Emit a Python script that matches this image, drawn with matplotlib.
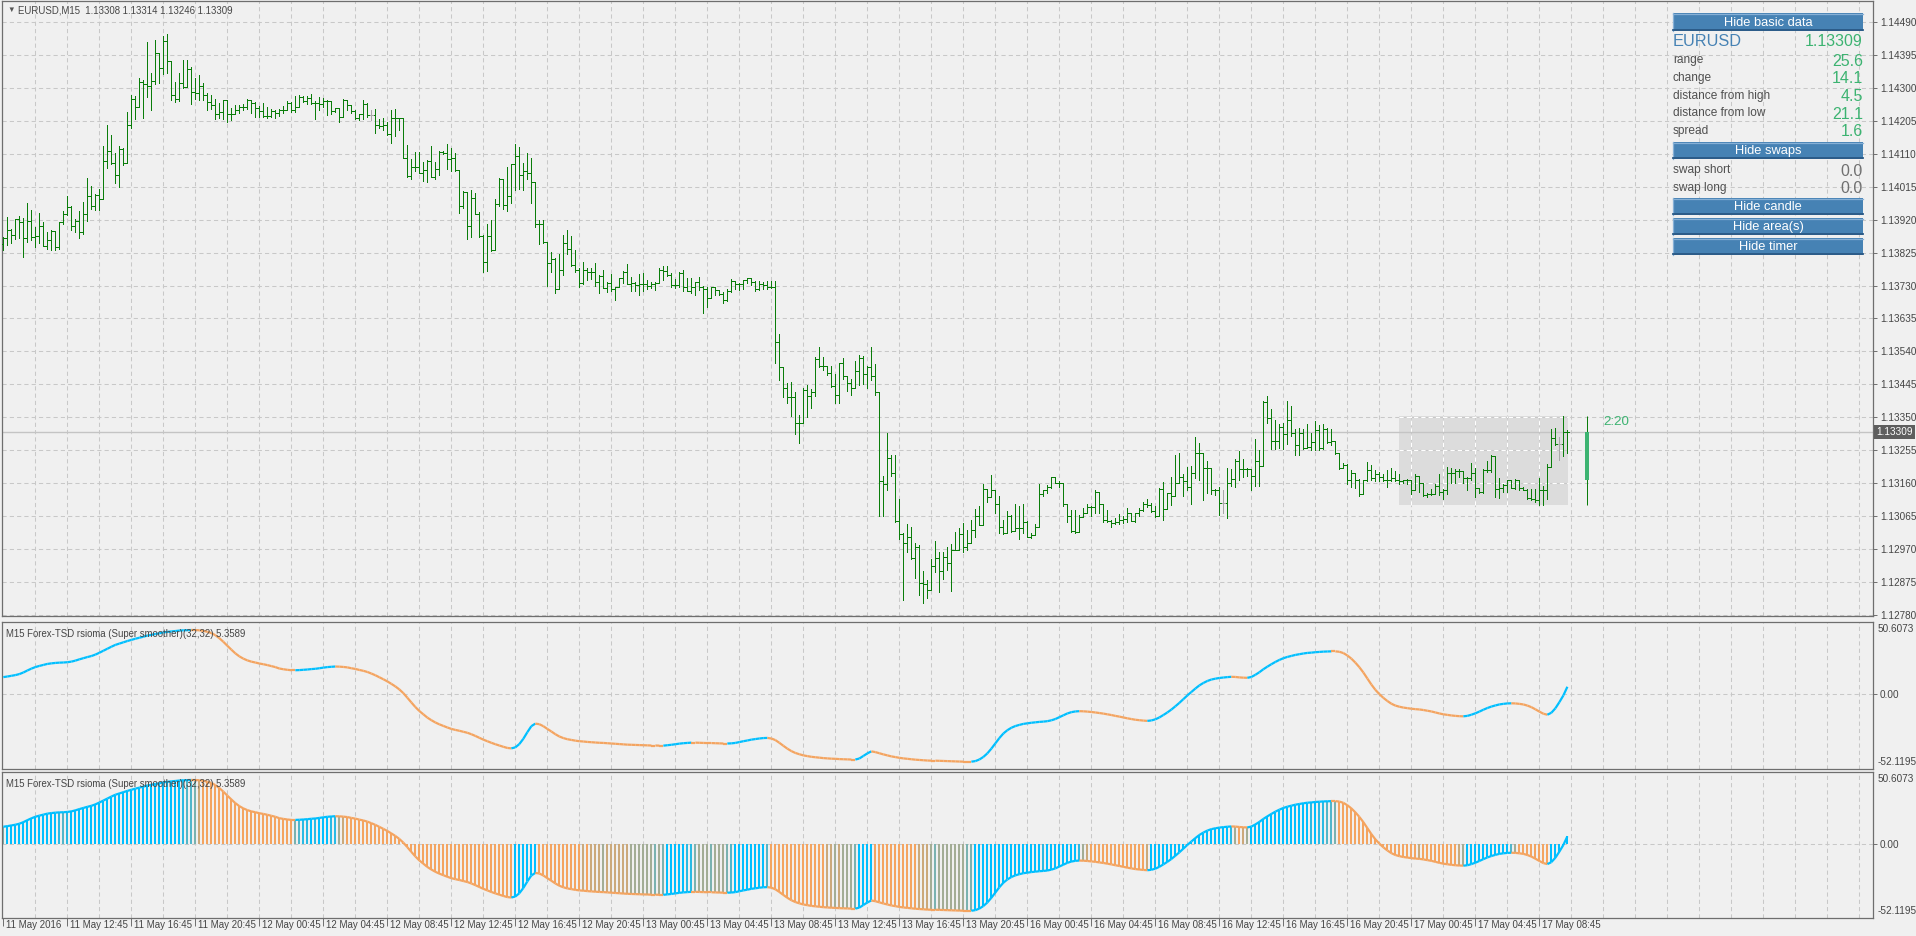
import numpy as np
import matplotlib.pyplot as plt
from matplotlib.collections import LineCollection
from matplotlib.patches import Rectangle

plt.rcParams['font.family'] = ['Liberation Sans', 'DejaVu Sans']

# EURUSD M15 bars, prices in points above 1.12000 (1 point = 0.00001)
highs = [
    1871, 1927, 1893, 1922, 1932, 1926, 1968, 1947, 1898, 1939,
    1914, 1884, 1889, 1888, 1914, 1946, 1989, 1960, 1922, 1946,
    1970, 2040, 2018, 1994, 2008, 2133, 2193, 2164, 2113, 2131,
    2127, 2231, 2280, 2277, 2329, 2323, 2433, 2342, 2438, 2402,
    2451, 2456, 2377, 2317, 2342, 2381, 2381, 2359, 2328, 2336,
    2313, 2285, 2280, 2267, 2256, 2265, 2265, 2242, 2251, 2250,
    2253, 2267, 2265, 2258, 2248, 2256, 2244, 2238, 2237, 2238,
    2248, 2261, 2258, 2277, 2280, 2277, 2277, 2283, 2261, 2273,
    2272, 2265, 2262, 2243, 2241, 2267, 2263, 2251, 2237, 2224,
    2265, 2256, 2237, 2239, 2211, 2213, 2203, 2235, 2238, 2214,
    2200, 2135, 2095, 2116, 2116, 2087, 2092, 2131, 2087, 2118,
    2118, 2138, 2126, 2111, 2063, 2003, 2001, 2006, 1996, 1943,
    1876, 1908, 1919, 1979, 2039, 2036, 2073, 2081, 2138, 2129,
    2083, 2111, 2099, 2027, 1919, 1919, 1855, 1826, 1809, 1821,
    1876, 1890, 1874, 1833, 1780, 1799, 1780, 1780, 1794, 1759,
    1775, 1739, 1764, 1727, 1753, 1773, 1792, 1756, 1741, 1763,
    1765, 1746, 1741, 1739, 1782, 1785, 1787, 1765, 1748, 1770,
    1775, 1751, 1753, 1739, 1756, 1729, 1727, 1727, 1725, 1717,
    1711, 1720, 1750, 1743, 1737, 1746, 1753, 1751, 1743, 1744,
    1741, 1743, 1743, 1744, 1591, 1469, 1448, 1451, 1424, 1357,
    1434, 1443, 1431, 1523, 1554, 1525, 1498, 1498, 1474, 1508,
    1520, 1469, 1460, 1513, 1530, 1527, 1498, 1552, 1504, 1422,
    1181, 1304, 1241, 1241, 1114, 1016, 1043, 1035, 987, 982,
    907, 881, 942, 992, 961, 963, 975, 985, 1018, 1030,
    1044, 1025, 1054, 1086, 1095, 1158, 1143, 1184, 1119, 1123,
    1054, 1080, 1067, 1100, 1093, 1100, 1052, 1016, 1043, 1158,
    1141, 1155, 1179, 1177, 1165, 1162, 1097, 1083, 1083, 1068,
    1088, 1100, 1093, 1141, 1136, 1100, 1083, 1054, 1059, 1071,
    1066, 1088, 1075, 1075, 1088, 1105, 1114, 1102, 1095, 1145,
    1163, 1133, 1177, 1241, 1246, 1186, 1208, 1210, 1292, 1277,
    1206, 1224, 1203, 1144, 1150, 1141, 1203, 1200, 1229, 1254,
    1230, 1203, 1200, 1287, 1256, 1397, 1412, 1373, 1341, 1331,
    1335, 1396, 1383, 1316, 1319, 1316, 1330, 1306, 1338, 1328,
    1331, 1319, 1316, 1283, 1248, 1218, 1216, 1199, 1187, 1172,
    1170, 1220, 1213, 1199, 1191, 1187, 1199, 1205, 1194, 1186,
    1170, 1172, 1167, 1186, 1179, 1131, 1133, 1143, 1157, 1187,
    1144, 1206, 1203, 1200, 1200, 1191, 1179, 1218, 1203, 1146,
    1200, 1225, 1242, 1239, 1174, 1158, 1170, 1170, 1172, 1170,
    1149, 1143, 1143, 1143, 1174, 1151, 1215, 1316, 1319, 1293,
    1354, 1314,
]
lows = [
    1833, 1847, 1854, 1864, 1867, 1811, 1857, 1860, 1840, 1852,
    1843, 1835, 1833, 1833, 1834, 1908, 1934, 1891, 1884, 1866,
    1880, 1917, 1951, 1948, 1948, 1980, 2068, 2081, 2027, 2015,
    2077, 2083, 2184, 2210, 2244, 2214, 2275, 2237, 2312, 2313,
    2340, 2342, 2265, 2259, 2261, 2299, 2306, 2253, 2269, 2265,
    2265, 2237, 2238, 2211, 2214, 2211, 2203, 2208, 2224, 2227,
    2237, 2238, 2227, 2217, 2217, 2217, 2214, 2217, 2213, 2220,
    2229, 2235, 2231, 2231, 2244, 2259, 2254, 2253, 2210, 2237,
    2244, 2222, 2224, 2231, 2203, 2215, 2237, 2229, 2210, 2208,
    2210, 2217, 2208, 2171, 2184, 2179, 2164, 2140, 2160, 2179,
    2097, 2042, 2038, 2059, 2054, 2032, 2030, 2042, 2036, 2049,
    2109, 2066, 2059, 2060, 1940, 1953, 1865, 1871, 1936, 1871,
    1770, 1772, 1831, 1833, 1958, 1951, 1946, 1969, 2006, 2008,
    2006, 2036, 1967, 1900, 1850, 1854, 1730, 1770, 1708, 1719,
    1761, 1821, 1785, 1770, 1727, 1734, 1746, 1748, 1729, 1708,
    1722, 1710, 1713, 1689, 1727, 1737, 1734, 1713, 1715, 1703,
    1715, 1720, 1724, 1717, 1737, 1746, 1758, 1727, 1724, 1725,
    1715, 1713, 1708, 1703, 1717, 1652, 1669, 1693, 1703, 1703,
    1679, 1684, 1711, 1719, 1717, 1719, 1737, 1732, 1715, 1717,
    1719, 1719, 1722, 1508, 1458, 1408, 1391, 1354, 1301, 1275,
    1340, 1352, 1378, 1412, 1496, 1485, 1472, 1436, 1390, 1392,
    1460, 1427, 1414, 1436, 1443, 1445, 1434, 1458, 1414, 1064,
    1064, 1141, 1181, 1049, 998, 823, 963, 942, 888, 838,
    814, 828, 854, 903, 847, 884, 910, 850, 966, 977,
    963, 966, 1004, 1006, 1038, 1040, 1107, 1121, 1073, 1016,
    1013, 1018, 1020, 1030, 999, 1016, 1004, 1003, 1011, 1044,
    1123, 1131, 1145, 1160, 1150, 1094, 1049, 1018, 1016, 1018,
    1064, 1073, 1064, 1073, 1073, 1049, 1049, 1035, 1042, 1043,
    1044, 1049, 1051, 1049, 1066, 1081, 1091, 1076, 1062, 1064,
    1054, 1100, 1097, 1126, 1160, 1124, 1141, 1099, 1174, 1169,
    1112, 1131, 1129, 1126, 1069, 1074, 1059, 1152, 1150, 1170,
    1179, 1181, 1139, 1152, 1152, 1251, 1333, 1258, 1258, 1261,
    1258, 1273, 1295, 1242, 1242, 1259, 1261, 1256, 1256, 1256,
    1258, 1275, 1271, 1245, 1200, 1210, 1158, 1149, 1146, 1124,
    1131, 1165, 1168, 1165, 1165, 1165, 1150, 1165, 1165, 1158,
    1160, 1158, 1128, 1153, 1136, 1122, 1120, 1126, 1136, 1126,
    1114, 1129, 1160, 1160, 1179, 1162, 1139, 1170, 1119, 1131,
    1133, 1191, 1191, 1120, 1117, 1136, 1136, 1146, 1143, 1141,
    1139, 1115, 1112, 1107, 1098, 1098, 1115, 1206, 1271, 1227,
    1237, 1246,
]
closes = [
    1867, 1889, 1876, 1921, 1914, 1867, 1916, 1870, 1873, 1901,
    1844, 1861, 1888, 1841, 1912, 1936, 1956, 1902, 1915, 1884,
    1937, 1988, 1958, 1992, 1981, 2089, 2118, 2083, 2049, 2125,
    2083, 2193, 2269, 2244, 2317, 2312, 2306, 2319, 2400, 2356,
    2435, 2377, 2279, 2267, 2313, 2304, 2355, 2287, 2285, 2306,
    2280, 2260, 2251, 2224, 2230, 2265, 2225, 2225, 2237, 2245,
    2244, 2264, 2256, 2241, 2232, 2219, 2218, 2232, 2229, 2235,
    2235, 2256, 2235, 2244, 2275, 2261, 2272, 2256, 2256, 2254,
    2261, 2262, 2233, 2241, 2215, 2265, 2252, 2234, 2213, 2224,
    2254, 2222, 2222, 2193, 2190, 2192, 2168, 2212, 2212, 2212,
    2099, 2047, 2073, 2071, 2056, 2063, 2088, 2044, 2065, 2116,
    2111, 2095, 2097, 2062, 1958, 2001, 1903, 1982, 1937, 1873,
    1797, 1874, 1833, 1964, 2036, 1961, 1989, 2080, 2104, 2049,
    2061, 2054, 2028, 1908, 1908, 1855, 1794, 1806, 1719, 1775,
    1852, 1836, 1788, 1775, 1737, 1775, 1770, 1768, 1739, 1758,
    1724, 1737, 1720, 1726, 1753, 1770, 1735, 1737, 1732, 1735,
    1735, 1730, 1735, 1737, 1775, 1773, 1761, 1732, 1732, 1767,
    1727, 1715, 1727, 1739, 1727, 1720, 1693, 1725, 1717, 1706,
    1689, 1713, 1743, 1734, 1734, 1746, 1751, 1739, 1720, 1734,
    1732, 1727, 1725, 1567, 1496, 1434, 1408, 1408, 1333, 1333,
    1429, 1412, 1424, 1518, 1498, 1498, 1479, 1441, 1414, 1506,
    1469, 1448, 1434, 1484, 1520, 1475, 1496, 1469, 1422, 1165,
    1157, 1232, 1189, 1051, 1013, 987, 1006, 944, 977, 871,
    870, 852, 921, 944, 907, 948, 929, 968, 968, 1014,
    977, 987, 1025, 1064, 1040, 1142, 1119, 1141, 1099, 1035,
    1016, 1066, 1022, 1030, 1030, 1047, 1006, 1011, 1035, 1128,
    1139, 1150, 1177, 1162, 1162, 1100, 1066, 1023, 1018, 1062,
    1073, 1091, 1091, 1136, 1100, 1054, 1052, 1046, 1049, 1054,
    1057, 1073, 1052, 1073, 1083, 1100, 1097, 1081, 1064, 1142,
    1085, 1131, 1123, 1160, 1179, 1167, 1150, 1189, 1246, 1246,
    1203, 1203, 1141, 1141, 1102, 1102, 1160, 1172, 1223, 1200,
    1200, 1200, 1181, 1225, 1210, 1394, 1349, 1283, 1282, 1322,
    1301, 1343, 1306, 1271, 1306, 1261, 1263, 1280, 1314, 1261,
    1316, 1280, 1282, 1246, 1203, 1213, 1170, 1189, 1170, 1128,
    1170, 1199, 1174, 1187, 1179, 1170, 1170, 1174, 1170, 1165,
    1170, 1170, 1141, 1181, 1160, 1126, 1129, 1128, 1152, 1136,
    1141, 1189, 1189, 1194, 1194, 1176, 1174, 1189, 1146, 1136,
    1199, 1197, 1239, 1143, 1146, 1155, 1168, 1146, 1170, 1146,
    1141, 1117, 1114, 1112, 1141, 1141, 1206, 1290, 1273, 1273,
    1308, 1309,
]
first_open = 1850
doji_bars = [92, 305, 389]      # open == close, drawn in grey

# current daily candle and the day's range box
candle_open, candle_high, candle_low, candle_close = 1168, 1354, 1098, 1309
day_start_bar = 349
bid = 1309

# rsioma (super smoother) values, one per bar
rsioma = [
    12.1, 12.5, 13.0, 13.5, 14.2, 15.3, 16.7, 18.0, 19.1, 19.9,
    20.6, 21.3, 21.7, 22.0, 22.2, 22.3, 22.5, 22.9, 23.6, 24.5,
    25.3, 26.1, 26.8, 27.8, 29.1, 30.5, 31.9, 33.3, 34.6, 35.5,
    36.4, 37.3, 38.1, 38.9, 39.6, 40.3, 41.1, 41.6, 42.2, 42.7,
    43.3, 43.7, 44.0, 44.3, 44.6, 44.8, 44.9, 45.0, 45.0, 44.8,
    44.4, 43.8, 42.9, 41.4, 39.3, 36.8, 34.0, 31.3, 28.7, 26.6,
    25.0, 23.8, 22.9, 22.3, 21.6, 21.1, 20.5, 19.8, 19.1, 18.1,
    17.6, 17.2, 16.9, 16.9, 17.0, 17.2, 17.4, 17.7, 17.9, 18.3,
    18.7, 19.1, 19.3, 19.5, 19.4, 19.2, 18.9, 18.3, 17.8, 17.1,
    16.5, 15.7, 14.6, 13.4, 12.0, 10.6, 9.1, 7.4, 5.6, 3.5,
    0.9, -2.3, -5.6, -8.8, -11.6, -13.9, -16.2, -18.0, -19.6, -20.9,
    -22.0, -23.1, -24.1, -24.8, -25.4, -26.1, -26.8, -27.8, -29.0, -30.3,
    -31.6, -32.7, -33.8, -34.8, -35.7, -36.6, -37.4, -37.7, -37.0, -34.7,
    -31.0, -26.4, -22.2, -20.4, -20.8, -22.2, -24.1, -25.9, -27.8, -29.4,
    -30.5, -31.3, -31.8, -32.3, -32.7, -32.9, -33.2, -33.4, -33.6, -33.8,
    -33.9, -34.1, -34.3, -34.5, -34.7, -34.9, -35.1, -35.2, -35.3, -35.4,
    -35.5, -35.6, -35.7, -35.7, -35.8, -35.8, -35.5, -35.2, -34.8, -34.4,
    -34.1, -33.9, -33.7, -33.7, -33.8, -33.9, -34.0, -34.0, -34.1, -34.2,
    -34.3, -34.3, -34.2, -33.9, -33.3, -32.7, -32.2, -31.6, -31.2, -30.8,
    -30.5, -30.4, -30.8, -31.9, -33.8, -35.9, -37.9, -39.6, -40.9, -41.8,
    -42.6, -43.1, -43.6, -43.9, -44.2, -44.5, -44.7, -44.9, -45.0, -45.2,
    -45.3, -45.4, -45.5, -45.5, -44.8, -43.0, -41.2, -39.8, -40.3, -41.1,
    -41.9, -42.6, -43.3, -43.8, -44.3, -44.7, -45.0, -45.3, -45.6, -45.8,
    -46.0, -46.2, -46.3, -46.3, -46.4, -46.5, -46.6, -46.7, -46.8, -46.9,
    -47.0, -47.0, -47.0, -46.6, -45.5, -43.7, -41.2, -37.9, -34.2, -30.5,
    -27.3, -25.0, -23.3, -22.1, -21.3, -20.6, -20.2, -19.8, -19.5, -19.2,
    -19.0, -18.7, -18.1, -17.2, -15.9, -14.6, -13.3, -12.4, -11.9, -11.7,
    -11.8, -12.0, -12.3, -12.6, -13.0, -13.4, -13.9, -14.4, -15.0, -15.5,
    -16.1, -16.7, -17.2, -17.7, -18.0, -18.3, -18.5, -18.2, -17.4, -16.1,
    -14.4, -12.6, -10.6, -8.3, -5.9, -3.3, -0.7, 1.7, 4.1, 6.3,
    8.0, 9.4, 10.4, 11.0, 11.5, 11.8, 12.1, 12.3, 12.2, 11.9,
    11.7, 11.6, 12.2, 13.7, 15.5, 17.6, 19.4, 21.1, 22.7, 24.1,
    25.3, 26.2, 26.9, 27.6, 28.1, 28.6, 29.0, 29.2, 29.5, 29.7,
    29.9, 30.0, 30.1, 30.1, 29.8, 28.9, 27.2, 25.0, 22.2, 19.0,
    15.3, 11.1, 6.9, 3.2, 0.2, -2.4, -4.6, -6.5, -7.8, -8.6,
    -9.2, -9.6, -10.0, -10.3, -10.5, -10.9, -11.4, -11.9, -12.6, -13.3,
    -13.9, -14.3, -14.7, -15.0, -15.2, -15.3, -15.0, -14.2, -13.2, -12.0,
    -10.7, -9.5, -8.5, -7.7, -7.0, -6.6, -6.3, -6.2, -6.3, -6.6,
    -7.0, -7.8, -8.9, -10.4, -12.0, -13.5, -14.2, -12.8, -9.7, -5.4,
    -0.7, 5.3589,
]
rsi_max, rsi_min = 50.6073, -52.1195

price_labels = ['1.12780', '1.12875', '1.12970', '1.13065', '1.13160', '1.13255',
                '1.13350', '1.13445', '1.13540', '1.13635', '1.13730', '1.13825',
                '1.13920', '1.14015', '1.14110', '1.14205', '1.14300', '1.14395',
                '1.14490']
time_labels = ['11 May 2016', '11 May 12:45', '11 May 16:45', '11 May 20:45',
               '12 May 00:45', '12 May 04:45', '12 May 08:45', '12 May 12:45',
               '12 May 16:45', '12 May 20:45', '13 May 00:45', '13 May 04:45',
               '13 May 08:45', '13 May 12:45', '13 May 16:45', '13 May 20:45',
               '16 May 00:45', '16 May 04:45', '16 May 08:45', '16 May 12:45',
               '16 May 16:45', '16 May 20:45', '17 May 00:45', '17 May 04:45',
               '17 May 08:45']
bars_per_label = 16

info_labels = ['range', 'change', 'distance from high', 'distance from low', 'spread']
info_values = ['25.6', '14.1', '4.5', '21.1', '1.6']
swap_labels = ['swap short', 'swap long']
swap_values = ['0.0', '0.0']

# ---------------------------------------------------------------- styling
W, H = 1916, 936
BG = '#f0f0f0'
GRID = '#c8c8c8'
FRAME = '#6e6e6e'
TXT = '#454545'
BAR = '#0a7d0a'
DOJI = '#a8a8a8'
BLUE = np.array([0, 191, 255]) / 255
ORANGE = np.array([244, 164, 96]) / 255
SEAGREEN = '#3cb371'
STEEL = '#4682b4'
DASH = (0, (4, 3))
XL = (-0.33, 467.4)
PX = 0.72     # one pixel in points at 100 dpi


def price(v):
    return 1.12 + np.asarray(v, dtype=float) / 1e5


fig = plt.figure(figsize=(W / 100, H / 100), dpi=100, facecolor=BG)


def add_pane(top, bottom):
    a = fig.add_axes([2 / W, 1 - bottom / H, 1871 / W, (bottom - top) / H])
    a.set_facecolor(BG)
    a.set_xlim(*XL)
    for s in a.spines.values():
        s.set_color(FRAME)
        s.set_linewidth(0.9)
    a.set_xticks([])
    return a


grid_x = np.arange(8, XL[1], 8)

# ---------------------------------------------------------------- price pane
ax = add_pane(1, 616)
ylo, yhi = 1.12777, 1.145506
ax.set_ylim(ylo, yhi)
ticks = [float(t) for t in price_labels]
ax.vlines(grid_x, ylo, yhi, colors=GRID, linestyles=DASH, lw=0.75, zorder=1)
ax.hlines(ticks, XL[0], XL[1], colors=GRID, linestyles=DASH, lw=0.75, zorder=1)

n = min(len(highs), len(lows), len(closes))
c = price(closes[:n])
o = np.r_[price(first_open), c[:-1]]
h = np.maximum(price(highs[:n]), np.maximum(o, c))
l = np.minimum(price(lows[:n]), np.minimum(o, c))

# day range box
d_hi = price(max(highs[day_start_bar:n]))
d_lo = price(min(lows[day_start_bar:n]))
bx0, bx1 = day_start_bar - 0.1, n - 1 + 0.05
ax.add_patch(Rectangle((bx0, d_lo), bx1 - bx0, d_hi - d_lo, facecolor='#dcdcdc',
                       edgecolor='none', zorder=0.5))
gx_in = grid_x[(grid_x > bx0) & (grid_x < bx1)]
ax.vlines(gx_in, d_lo, d_hi, colors='white', linestyles=DASH, lw=0.75, zorder=1.1)
ty_in = [t for t in ticks if d_lo < t < d_hi]
ax.hlines(ty_in, bx0, bx1, colors='white', linestyles=DASH, lw=0.75, zorder=1.1)

# bid line
ax.axhline(price(bid), color='#c4c4c4', lw=1.0, zorder=1.2)

segs, cols = [], []
for i in range(n):
    col = DOJI if i in doji_bars else BAR
    segs += [[(i, l[i]), (i, h[i])], [(i - 0.4, o[i]), (i, o[i])], [(i, c[i]), (i + 0.4, c[i])]]
    cols += [col] * 3
ax.add_collection(LineCollection(segs, colors=cols, linewidths=PX, antialiaseds=False, zorder=3))

# daily candle to the right of the last bar
cx = n + 4
ax.vlines(cx, price(candle_low), price(candle_high), colors=BAR, lw=PX, zorder=3)
ax.bar(cx, price(candle_close) - price(candle_open), bottom=price(candle_open), width=1.0,
       color=SEAGREEN, linewidth=0, zorder=4)
ax.text(cx + 3.9, price(candle_high), '2:20', color=SEAGREEN, fontsize=9.6,
        ha='left', va='top', zorder=5)

ax.yaxis.tick_right()
ax.set_yticks(ticks)
ax.set_yticklabels(price_labels)
ax.tick_params(axis='y', length=3, width=0.7, color=FRAME, labelsize=7.2,
               labelcolor=TXT, pad=2)
ax.annotate(f'{price(bid):.5f}', xy=(1, price(bid)), xycoords=('axes fraction', 'data'),
            xytext=(2.2, 0), textcoords='offset points', ha='left', va='center',
            fontsize=7.2, color='white',
            bbox=dict(boxstyle='square,pad=0.2', fc='#5e5e5e', ec='none'))

# ---------------------------------------------------------------- indicator panes
vals = np.array(rsioma)
m = len(vals)
xi = np.arange(m)
pts = np.column_stack([xi, vals])
rsegs = np.stack([pts[:-1], pts[1:]], axis=1)
rcols = [BLUE if vals[i + 1] > vals[i] else ORANGE for i in range(m - 1)]

d = np.diff(vals, prepend=vals[0])
t = np.clip(0.5 + d / 0.6, 0, 1)
hcols = [tuple(BLUE * k + ORANGE * (1 - k)) for k in t]


def indicator_pane(top, bottom, hist):
    a = add_pane(top, bottom)
    a.set_ylim(rsi_min, rsi_max)
    a.vlines(grid_x, rsi_min, rsi_max, colors=GRID, linestyles=DASH, lw=0.75, zorder=1)
    a.axhline(0, color=GRID, ls=DASH, lw=0.75, zorder=1)
    if hist:
        a.bar(xi, vals, width=0.55, color=hcols, linewidth=0, zorder=2)
    a.add_collection(LineCollection(rsegs, colors=rcols, linewidths=1.6, zorder=3,
                                    capstyle='butt'))
    a.yaxis.tick_right()
    a.set_yticks([0])
    a.set_yticklabels(['0.00'])
    a.tick_params(axis='y', length=3, width=0.7, color=FRAME, labelsize=7.2,
                  labelcolor=TXT, pad=2)
    a.annotate(f'{rsi_max:.4f}', xy=(1, 1), xycoords='axes fraction', xytext=(3, -1.5),
               textcoords='offset points', ha='left', va='top', fontsize=7.2, color=TXT)
    a.annotate(f'{rsi_min:.4f}', xy=(1, 0), xycoords='axes fraction', xytext=(3, 1.5),
               textcoords='offset points', ha='left', va='bottom', fontsize=7.2, color=TXT)
    a.text(0.0023, 0.955, f'M15 Forex-TSD rsioma (Super smoother)(32,32) {vals[-1]:.4f}',
           transform=a.transAxes, fontsize=6.9, color=TXT, ha='left', va='top', zorder=6)
    return a


ax2 = indicator_pane(622, 769, hist=False)
ax3 = indicator_pane(772, 918, hist=True)

pos = [k * bars_per_label for k in range(len(time_labels))]
ax3.set_xticks(pos)
ax3.tick_params(axis='x', length=6, width=0.7, color=FRAME, labelbottom=False)
for p, lab in zip(pos, time_labels):
    ax3.annotate(lab, xy=(p, 0), xycoords=('data', 'axes fraction'), xytext=(1.8, -1.2),
                 textcoords='offset points', ha='left', va='top', fontsize=7.0, color=TXT)

# ---------------------------------------------------------------- overlay (pixel coords)
ov = fig.add_axes([0, 0, 1, 1], zorder=10)
ov.set_xlim(0, W)
ov.set_ylim(H, 0)
ov.set_axis_off()

ov.text(7, 10.5, '\u25bc', fontsize=5.5, color='#555555', ha='left', va='center')
ov.text(18, 10.5, 'EURUSD,M15  1.13308 1.13314 1.13246 1.13309', fontsize=6.9,
        color=TXT, ha='left', va='center')

BX0, BX1 = 1673, 1863


def button(y0, y1, label):
    ov.add_patch(Rectangle((BX0, y0), BX1 - BX0, y1 - y0, facecolor=STEEL, edgecolor='none'))
    ov.plot([BX0, BX1], [y0 + 0.5, y0 + 0.5], color='#86b0d6', lw=0.9)
    ov.plot([BX0 + 0.5, BX0 + 0.5], [y0, y1], color='#86b0d6', lw=0.9)
    ov.plot([BX0, BX1], [y1 - 0.8, y1 - 0.8], color='#2a5985', lw=1.3)
    ov.text((BX0 + BX1) / 2, (y0 + y1) / 2 + 0.5, label, ha='center', va='center',
            color='white', fontsize=9.3)


button(13, 31, 'Hide basic data')
ov.text(BX0, 41.5, 'EURUSD', color=STEEL, fontsize=11.8, ha='left', va='center')
ov.text(BX1, 41.5, f'{price(bid):.5f}', color=SEAGREEN, fontsize=11.5, ha='right', va='center')
for k, (lab, val) in enumerate(zip(info_labels, info_values)):
    y = 60 + k * 17.75
    ov.text(BX0, y, lab, color='#505050', fontsize=8.6, ha='left', va='center')
    ov.text(BX1, y + 1, val, color=SEAGREEN, fontsize=11.5, ha='right', va='center')
button(142, 159, 'Hide swaps')
for k, (lab, val) in enumerate(zip(swap_labels, swap_values)):
    y = 170 + k * 17.7
    ov.text(BX0, y, lab, color='#505050', fontsize=8.6, ha='left', va='center')
    ov.text(BX1, y + 1, val, color='#707070', fontsize=11.5, ha='right', va='center')
button(198, 215, 'Hide candle')
button(218, 235, 'Hide area(s)')
button(238, 255, 'Hide timer')

fig.savefig('out.png', dpi=100, facecolor=BG)
